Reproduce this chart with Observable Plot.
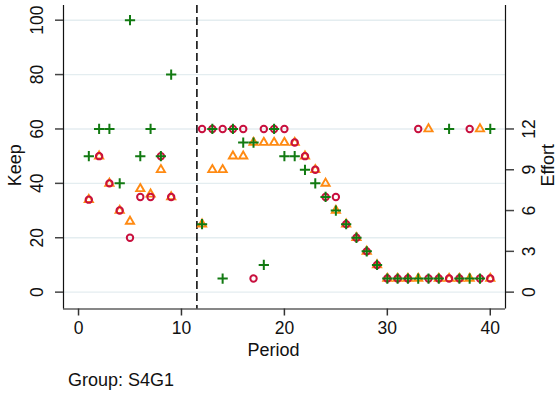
<!DOCTYPE html>
<html>
<head>
<meta charset="utf-8">
<script src="https://cdn.jsdelivr.net/npm/d3@7"></script>
<script src="https://cdn.jsdelivr.net/npm/@observablehq/plot@0.6"></script>
<style>
  html, body { margin: 0; padding: 0; background: #fff; }
  #wrap { width: 559px; height: 396px; position: relative; font-family: "Liberation Sans", Arial, sans-serif; }
  #caption { font-size: 18px; line-height: 24px; padding-left: 68px; color: #111; }
</style>
</head>
<body>
<div id="wrap"><div id="chart"></div><div id="caption">Group: S4G1</div></div>
<script>
const periods = [1,2,3,4,5,6,7,8,9,10,11,12,13,14,15,16,17,18,19,20,21,22,23,24,25,26,27,28,29,30,31,32,33,34,35,36,37,38,39,40];
// green plus series
const seriesPlus = [50,60,60,40,100,50,60,50,80,null,null,25,60,5,60,55,55,10,60,50,50,45,40,35,30,25,20,15,10,5,5,5,5,5,5,60,5,5,5,60];
// orange triangle series
const seriesTri = [34,50,40,30,26,38,36,45,35,null,null,25,45,45,50,50,55,55,55,55,55,50,45,40,30,25,20,15,10,5,5,5,5,60,5,5,5,5,60,5];
// red circle series
const seriesCirc = [34,50,40,30,20,35,35,50,35,null,null,60,60,60,60,60,5,60,60,60,55,50,45,35,35,25,20,15,10,5,5,5,60,5,5,5,5,60,5,5];

const keepTicks = [0,20,40,60,80,100];
const effortTicks = [0,3,6,9,12];
const effortToKeep = 5;
const xTicks = [0,10,20,30,40];
const breakPeriod = [11.5];
const xDomain = [-1.46, 41.48];
const yDomain = [-6.2, 105.4];

const rows = (vals) => periods.map((p, i) => ({period: p, value: vals[i]})).filter(d => d.value != null);

const green = "#127a12", orange = "#ff8a12", red = "#c8103e";
const font = "Liberation Sans, Arial, sans-serif";

const chart = Plot.plot({
  width: 559,
  height: 368,
  marginLeft: 63,
  marginRight: 54,
  marginTop: 5,
  marginBottom: 59.5,
  style: {fontFamily: font, fontSize: "17.5px", background: "#fff", color: "#111", overflow: "visible"},
  x: {domain: xDomain, label: null},
  y: {domain: yDomain, label: null},
  marks: [
    Plot.gridY(keepTicks, {stroke: "#e4edf0", strokeOpacity: 1, strokeWidth: 1.4}),
    Plot.ruleX(breakPeriod, {stroke: "#000", strokeWidth: 1.5, strokeDasharray: "8,4"}),
    Plot.ruleX([xDomain[0], xDomain[1]], {stroke: "#111", strokeWidth: 1.2}),
    Plot.ruleY([yDomain[0]], {stroke: "#111", strokeWidth: 1.2}),
    Plot.axisX(xTicks, {tickSize: 7, tickPadding: 6, label: null, stroke: "#333", strokeWidth: 1.5, fontSize: 17.5}),
    Plot.axisY(keepTicks, {anchor: "left", tickSize: 8, tickFormat: () => "", label: null, stroke: "#444", strokeWidth: 1.5}),
    Plot.axisY(effortTicks.map(e => e * effortToKeep), {anchor: "right", tickSize: 8, tickFormat: () => "", label: null, stroke: "#444", strokeWidth: 1.5}),
    Plot.text(keepTicks, {y: d => d, text: d => String(d), frameAnchor: "left", textAnchor: "middle", lineAnchor: "middle", rotate: -90, dx: -26, fontSize: 17.5, fill: "#111"}),
    Plot.text(effortTicks, {y: d => d * effortToKeep, text: d => String(d), frameAnchor: "right", textAnchor: "middle", lineAnchor: "middle", rotate: -90, dx: 24, fontSize: 17.5, fill: "#111"}),
    Plot.text(["Keep"], {frameAnchor: "left", textAnchor: "middle", lineAnchor: "middle", rotate: -90, dx: -48, dy: 8, fontSize: 18, fill: "#111"}),
    Plot.text(["Effort"], {frameAnchor: "right", textAnchor: "middle", lineAnchor: "middle", rotate: -90, dx: 43, dy: 8, fontSize: 18, fill: "#111"}),
    Plot.text(["Period"], {frameAnchor: "bottom", textAnchor: "middle", lineAnchor: "middle", dx: -11, dy: 41, fontSize: 18, fill: "#111"}),
    Plot.dot(rows(seriesTri), {x: "period", y: "value", symbol: "triangle2", r: 3.9, stroke: orange, strokeWidth: 1.9, fill: "none"}),
    Plot.dot(rows(seriesCirc), {x: "period", y: "value", symbol: "circle", r: 3.2, stroke: red, strokeWidth: 2, fill: "none"}),
    Plot.dot(rows(seriesPlus), {x: "period", y: "value", symbol: "plus", r: 3.4, stroke: green, strokeWidth: 2})
  ]
});
document.getElementById("chart").appendChild(chart);
</script>
</body>
</html>
